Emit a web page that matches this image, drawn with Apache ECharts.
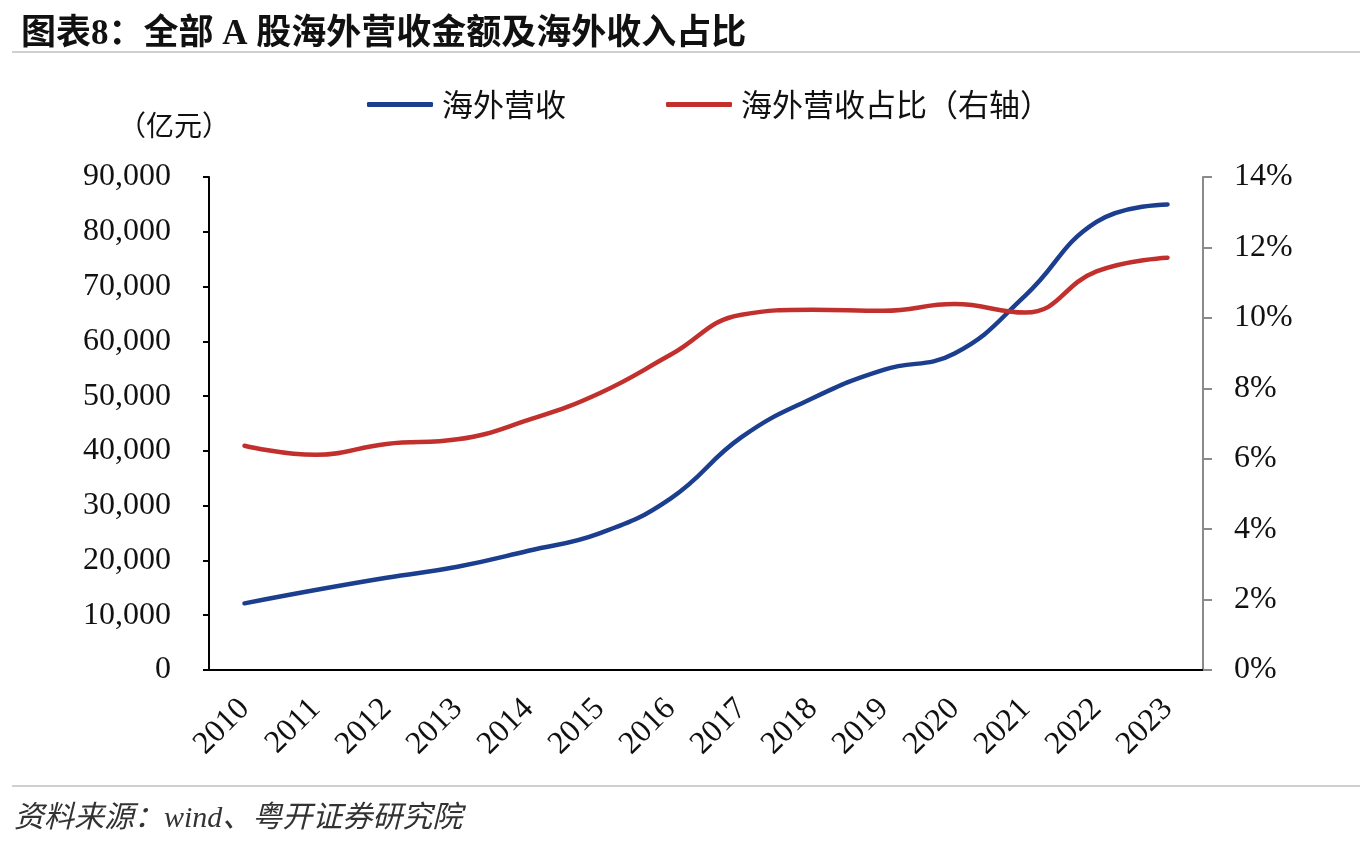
<!DOCTYPE html>
<html>
<head>
<meta charset="utf-8">
<script src="https://cdn.jsdelivr.net/npm/echarts@6/dist/echarts.min.js"></script>
<style>
html,body{margin:0;padding:0;background:#fff;}
#chart{width:1360px;height:856px;}
</style>
</head>
<body>
<div id="chart"></div>
<script>
const categories = ['2010','2011','2012','2013','2014','2015','2016','2017','2018','2019','2020','2021','2022','2023'];
const overseasRevenue = [12170, 14600, 16840, 18850, 21770, 24940, 31300, 42500, 49600, 54800, 57800, 68400, 81800, 85000];
const overseasShare = [6.37, 6.11, 6.42, 6.55, 7.1, 7.86, 8.95, 10.09, 10.23, 10.2, 10.39, 10.15, 11.32, 11.71];
const seriesNames = ['海外营收', '海外营收占比（右轴）'];

const serif = '"Liberation Serif", "Times New Roman", "Noto Sans CJK SC", serif';
const cjk = '"Noto Sans CJK SC", sans-serif';

const chart = echarts.init(document.getElementById('chart'));
chart.setOption({
  animation: false,
  backgroundColor: '#fff',
  title: {
    text: '图表8：全部 A 股海外营收金额及海外收入占比',
    left: 16, top: 12,
    textStyle: { fontFamily: '"Liberation Serif", "Noto Sans CJK SC", serif', fontWeight: 'bold', fontSize: 35, color: '#111' }
  },
  legend: {
    left: 362, top: 84,
    itemWidth: 66, itemHeight: 5, itemGap: 100,
    icon: 'roundRect',
    textStyle: { fontFamily: cjk, fontSize: 31, color: '#111', padding: [0,0,0,4] },
    data: seriesNames
  },
  graphic: [
    { type: 'line', shape: { x1: 12, y1: 52, x2: 1360, y2: 52 }, style: { stroke: '#d0d0d0', lineWidth: 2 } },
    { type: 'line', shape: { x1: 12, y1: 786, x2: 1360, y2: 786 }, style: { stroke: '#d0d0d0', lineWidth: 2 } },
    { type: 'text', left: 118, top: 111, style: { text: '（亿元）', font: '28px "Noto Sans CJK SC", sans-serif', fill: '#111' } },
    { type: 'text', left: 14, top: 804, style: { text: '资料来源：wind、粤开证券研究院', font: 'italic 30px "Liberation Serif", "Noto Sans CJK SC", serif', fill: '#333' } }
  ],
  grid: { left: 209, right: 157, top: 177, bottom: 186, containLabel: false },
  xAxis: {
    type: 'category',
    data: categories,
    boundaryGap: true,
    axisLine: { lineStyle: { color: '#000', width: 2 } },
    axisTick: { inside: true, length: 9, lineStyle: { color: '#000', width: 2 } },
    axisLabel: { rotate: 45, margin: 34, fontFamily: serif, fontSize: 32, color: '#111' }
  },
  yAxis: [
    {
      type: 'value', min: 0, max: 90000, interval: 10000,
      axisLine: { show: true, lineStyle: { color: '#000', width: 2 } },
      axisTick: { show: true, length: 6, lineStyle: { color: '#000', width: 2 } },
      splitLine: { show: false },
      axisLabel: {
        margin: 38, fontFamily: serif, fontSize: 32, color: '#111',
        formatter: v => v.toLocaleString('en-US')
      }
    },
    {
      type: 'value', min: 0, max: 14, interval: 2, position: 'right',
      axisLine: { show: true, lineStyle: { color: '#8a8a8a', width: 2 } },
      axisTick: { show: true, length: 9, lineStyle: { color: '#8a8a8a', width: 2 } },
      splitLine: { show: false },
      axisLabel: { margin: 31, fontFamily: serif, fontSize: 32, color: '#111', formatter: '{value}%' }
    }
  ],
  series: [
    {
      name: seriesNames[0], type: 'line', yAxisIndex: 0,
      data: overseasRevenue, smooth: 0.45, symbol: 'none',
      lineStyle: { color: '#1C3E8F', width: 4.5, cap: 'round' },
      itemStyle: { color: '#1C3E8F' }
    },
    {
      name: seriesNames[1], type: 'line', yAxisIndex: 1,
      data: overseasShare, smooth: 0.45, symbol: 'none',
      lineStyle: { color: '#C2302D', width: 4.5, cap: 'round' },
      itemStyle: { color: '#C2302D' }
    }
  ]
});
</script>
</body>
</html>
